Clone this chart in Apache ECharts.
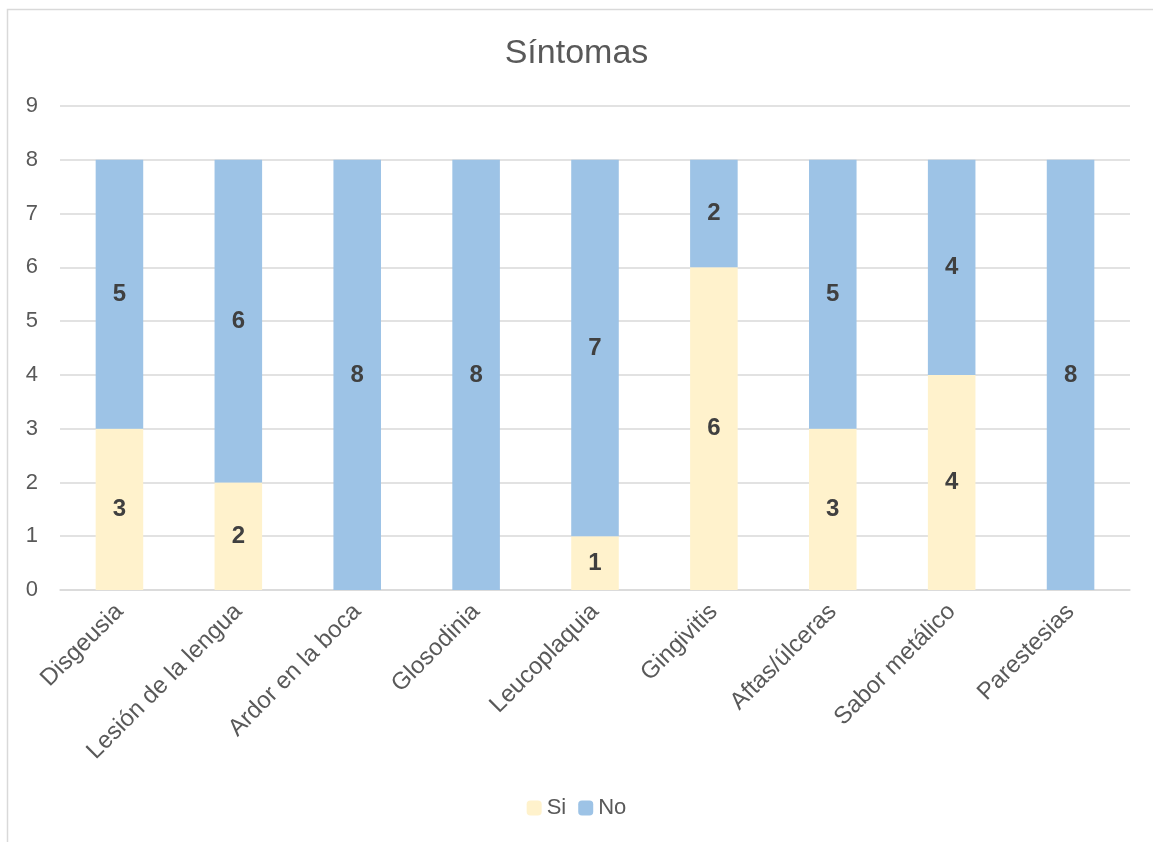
<!DOCTYPE html>
<html>
<head>
<meta charset="utf-8">
<script src="https://cdn.jsdelivr.net/npm/echarts@6/dist/echarts.min.js"></script>
<style>
  html, body { margin: 0; padding: 0; background: #fff; }
  #chart { width: 1153px; height: 842px; }
</style>
</head>
<body>
<div id="chart"></div>
<script>
const categories = ['Disgeusia', 'Lesión de la lengua', 'Ardor en la boca', 'Glosodinia', 'Leucoplaquia', 'Gingivitis', 'Aftas/úlceras', 'Sabor metálico', 'Parestesias']
const siValues = [3, 2, 0, 0, 1, 6, 3, 4, 0]
const noValues = [5, 6, 8, 8, 7, 2, 5, 4, 8]
const yTicks = [0, 1, 2, 3, 4, 5, 6, 7, 8, 9]

const font = '"Liberation Sans", Arial, sans-serif'
const label = {
  show: true,
  position: 'inside',
  fontSize: 24,
  fontWeight: 'bold',
  color: '#404040',
  fontFamily: font,
  formatter: p => p.value === 0 ? '' : p.value
}

let myChart = echarts.init(document.getElementById('chart'))
myChart.setOption({
  animation: false,
  textStyle: { fontFamily: font },
  graphic: [{
    type: 'rect',
    shape: { x: 7.5, y: 9.5, width: 1170, height: 860 },
    style: { fill: 'none', stroke: '#d9d9d9', lineWidth: 1.5 },
    silent: true
  }],
  title: {
    text: 'Síntomas',
    left: 'center',
    top: 32,
    textStyle: { fontSize: 34, fontWeight: 'normal', color: '#595959', fontFamily: font }
  },
  legend: {
    bottom: 18,
    left: 'center',
    itemWidth: 15,
    itemHeight: 15,
    itemGap: 12,
    textStyle: { fontSize: 22, color: '#595959', fontFamily: font },
    data: ['Si', 'No']
  },
  grid: { left: 60, right: 23, top: 106, bottom: 252, containLabel: false },
  xAxis: {
    type: 'category',
    data: categories,
    axisLine: { lineStyle: { color: '#d9d9d9', width: 1.5 } },
    axisTick: { show: false },
    axisLabel: { rotate: 45, fontSize: 24, color: '#595959', margin: 18, interval: 0 }
  },
  yAxis: {
    type: 'value',
    min: yTicks[0],
    max: yTicks[yTicks.length - 1],
    interval: 1,
    axisLine: { show: false },
    axisTick: { show: false },
    splitLine: { lineStyle: { color: '#d9d9d9', width: 1.5 } },
    axisLabel: { fontSize: 22, color: '#595959', margin: 22 }
  },
  series: [
    {
      name: 'Si',
      type: 'bar',
      stack: 'total',
      barWidth: '40%',
      itemStyle: { color: '#FFF2CC' },
      label: label,
      data: siValues
    },
    {
      name: 'No',
      type: 'bar',
      stack: 'total',
      barWidth: '40%',
      itemStyle: { color: '#9DC3E6' },
      label: label,
      data: noValues
    }
  ]
})
</script>
</body>
</html>
